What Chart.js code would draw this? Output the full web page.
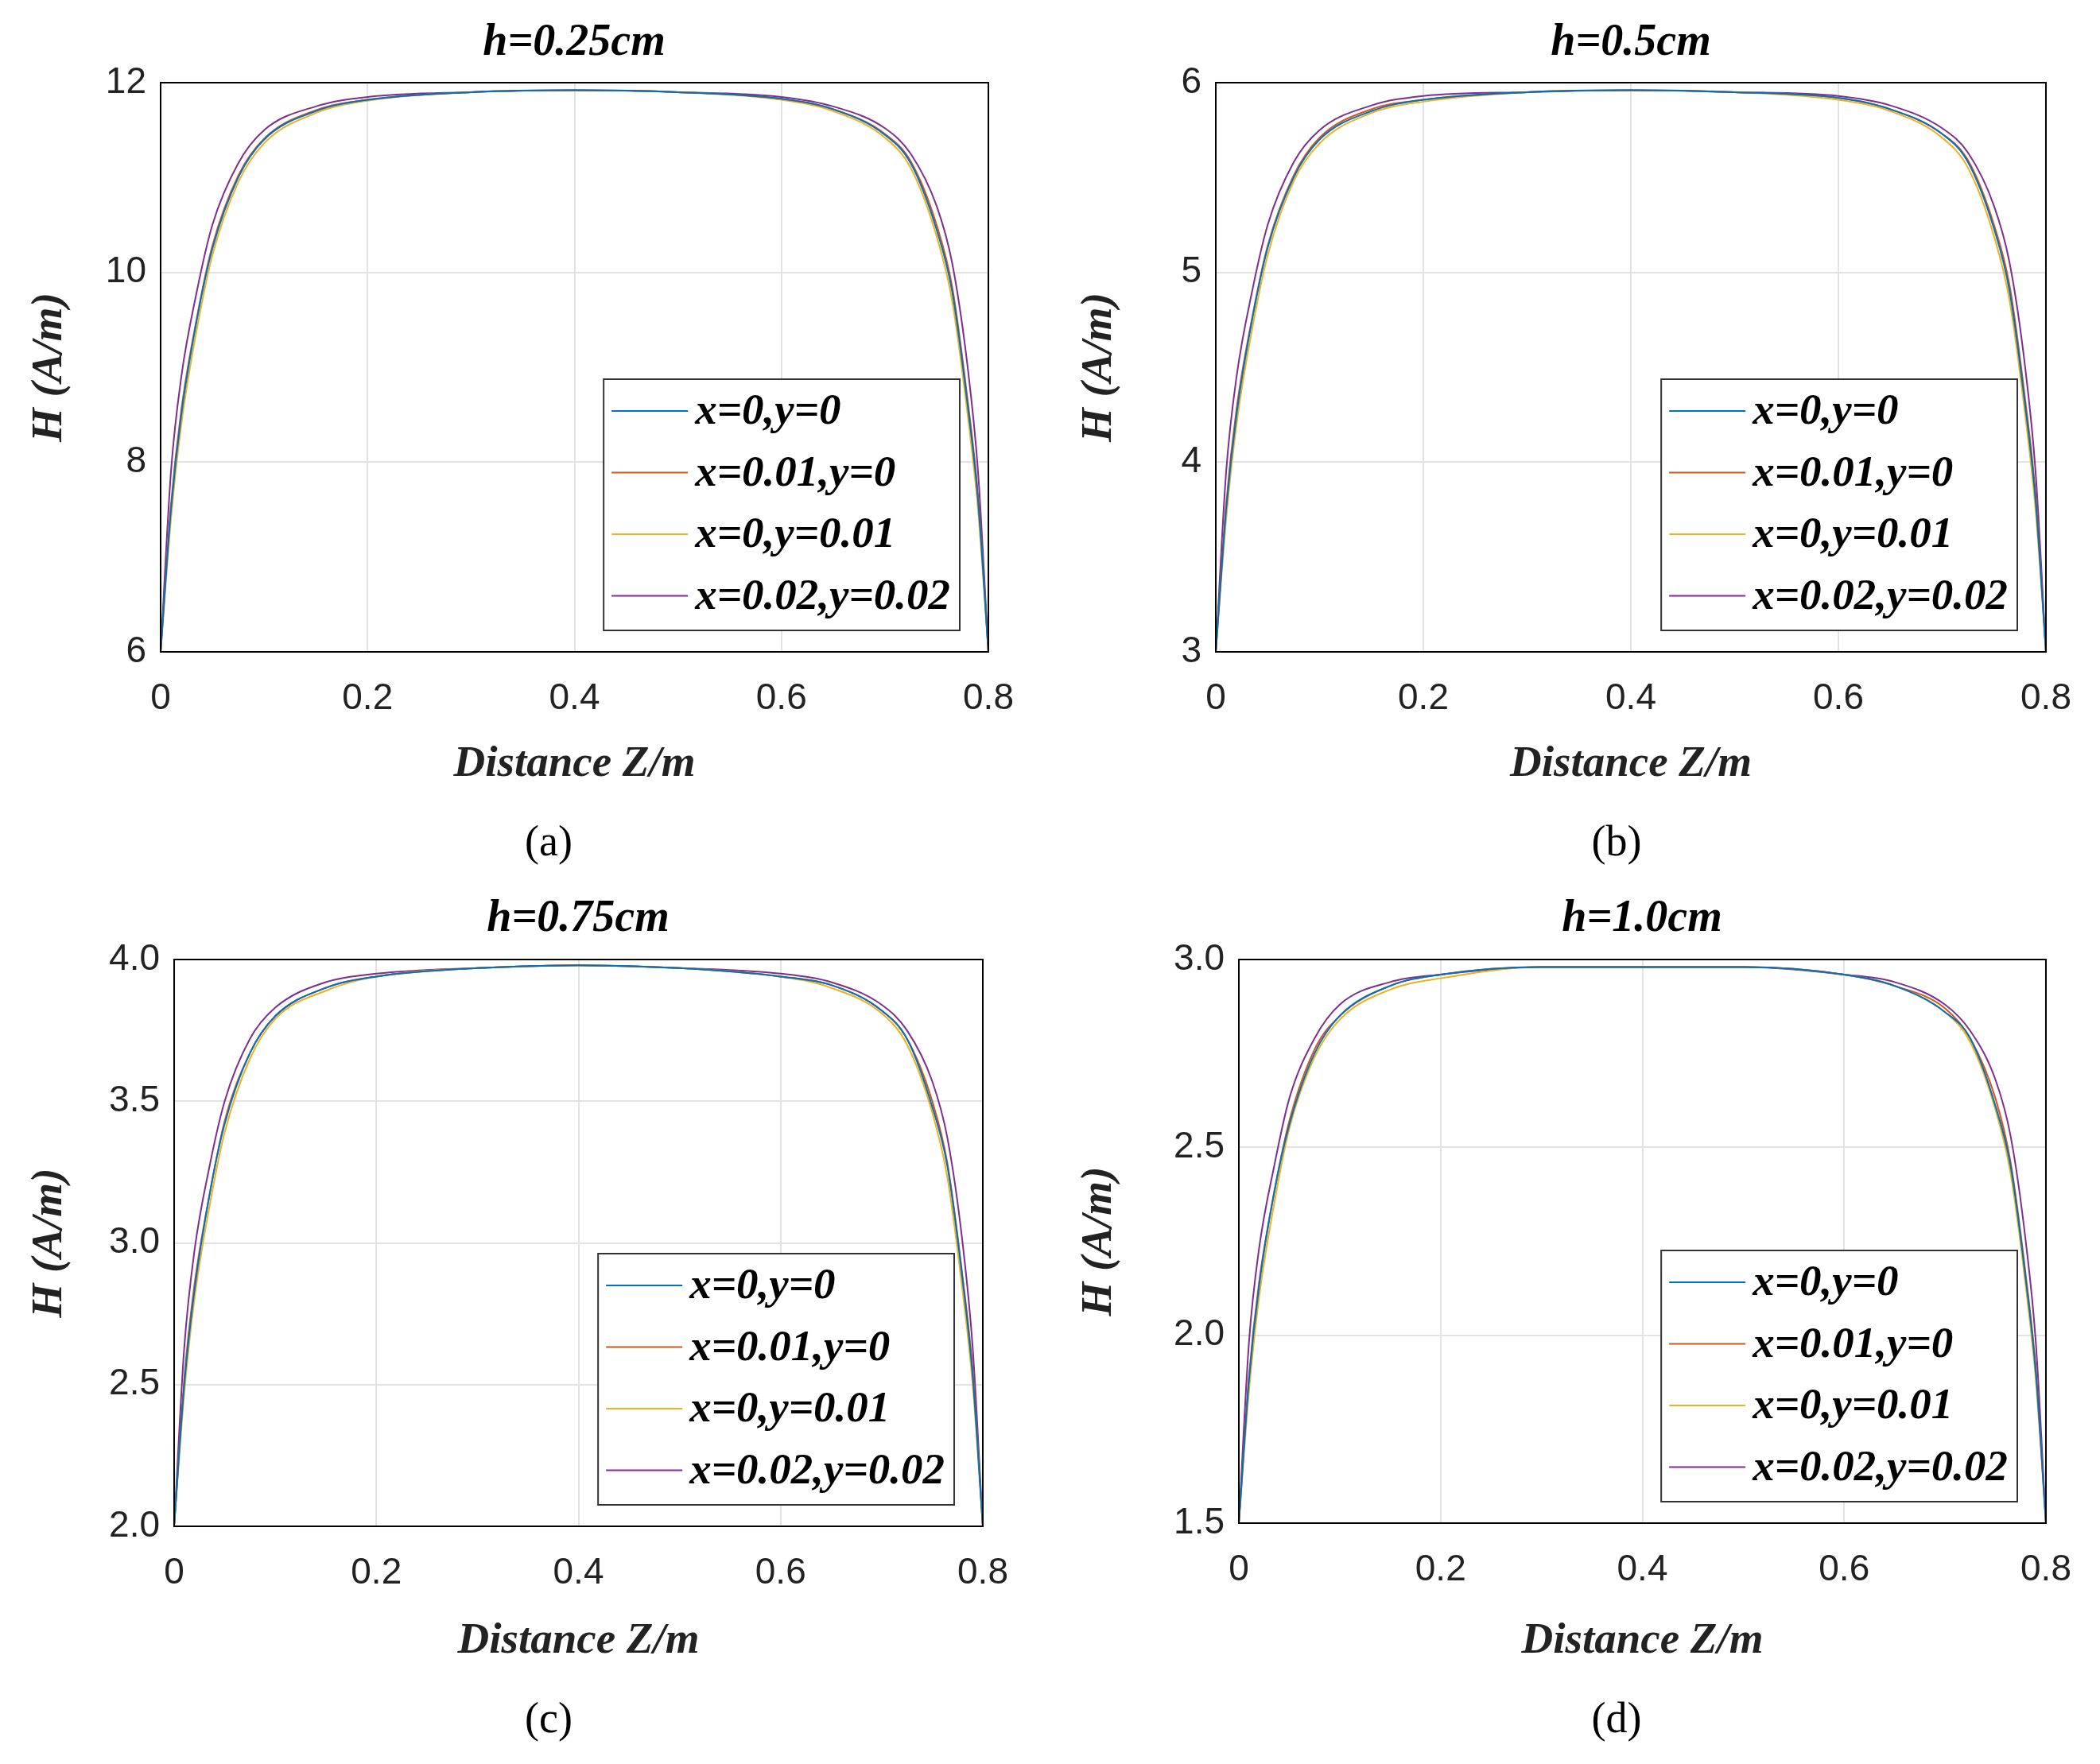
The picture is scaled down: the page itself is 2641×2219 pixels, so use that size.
<!DOCTYPE html>
<html>
<head>
<meta charset="utf-8">
<script src="https://cdn.jsdelivr.net/npm/chart.js@4.4.0/dist/chart.umd.min.js"></script>
<style>
body{margin:0;background:#fff;width:2641px;height:2219px;position:relative;overflow:hidden}
.box{position:absolute;width:1320px;height:1000px}
.ttl{position:absolute;transform:translate(-50%,-50%);font:italic bold 56px "Liberation Serif";white-space:nowrap}
.lab{position:absolute;transform:translate(-50%,-50%);font:54px "Liberation Serif"}
</style>
</head>
<body>
<div class="box" style="left:0;top:0"><canvas id="cA" width="1320" height="1000"></canvas></div>
<div class="box" style="left:1320px;top:0"><canvas id="cB" width="1320" height="1000"></canvas></div>
<div class="box" style="left:0;top:1103px"><canvas id="cC" width="1320" height="1000"></canvas></div>
<div class="box" style="left:1320px;top:1103px"><canvas id="cD" width="1320" height="1000"></canvas></div>
<div class="ttl" style="left:722px;top:50px">h=0.25cm</div>
<div class="ttl" style="left:2051px;top:50px">h=0.5cm</div>
<div class="ttl" style="left:727px;top:1152px">h=0.75cm</div>
<div class="ttl" style="left:2065px;top:1152px">h=1.0cm</div>
<div class="lab" style="left:690px;top:1058px">(a)</div>
<div class="lab" style="left:2033px;top:1058px">(b)</div>
<div class="lab" style="left:690px;top:2161px">(c)</div>
<div class="lab" style="left:2033px;top:2161px">(d)</div>
<script>
let Z = [0,0.01,0.02,0.035,0.05,0.075,0.1,0.15,0.2,0.3,0.4,0.5,0.6,0.65,0.7,0.725,0.75,0.765,0.78,0.79,0.8];
let names = ["x=0,y=0","x=0.01,y=0","x=0,y=0.01","x=0.02,y=0.02"];
let colors = ["#0072BD","#D95319","#EDB120","#7E2F8E"];

let panels = [
  {id:"cA", min:6, max:12, step:2, yw:202, padR:77, xh:180, data:[
    [6,7.5,8.5,9.5,10.25,11.0,11.4,11.7,11.82,11.9,11.92,11.9,11.83,11.72,11.45,11.15,10.45,9.8,8.6,7.6,6],
    [6,7.55,8.55,9.52,10.28,11.02,11.41,11.71,11.82,11.9,11.92,11.9,11.83,11.72,11.46,11.17,10.5,9.85,8.65,7.65,6],
    [6,7.4,8.4,9.4,10.18,10.95,11.36,11.68,11.81,11.9,11.92,11.9,11.82,11.7,11.42,11.1,10.38,9.7,8.5,7.5,6],
    [6,7.9,8.9,9.8,10.5,11.15,11.5,11.75,11.85,11.9,11.92,11.9,11.85,11.75,11.52,11.25,10.7,10.1,9.0,7.9,6]]},
  {id:"cB", min:3, max:6, step:1, yw:209, padR:67, xh:180, data:[
    [3,3.75,4.25,4.75,5.13,5.5,5.7,5.85,5.91,5.95,5.96,5.95,5.92,5.86,5.73,5.58,5.23,4.9,4.3,3.8,3],
    [3,3.78,4.28,4.76,5.14,5.51,5.71,5.86,5.91,5.95,5.96,5.95,5.92,5.86,5.73,5.59,5.25,4.93,4.33,3.83,3],
    [3,3.7,4.2,4.7,5.09,5.48,5.68,5.84,5.9,5.95,5.96,5.95,5.91,5.85,5.71,5.55,5.19,4.85,4.25,3.75,3],
    [3,3.95,4.45,4.9,5.25,5.58,5.75,5.88,5.93,5.95,5.96,5.95,5.93,5.88,5.76,5.63,5.35,5.05,4.5,3.95,3]]},
  {id:"cC", min:2, max:4, step:0.5, yw:219, padR:84, xh:183, data:[
    [2,2.5,2.83,3.17,3.42,3.67,3.8,3.9,3.94,3.97,3.98,3.97,3.94,3.91,3.82,3.72,3.48,3.27,2.87,2.53,2],
    [2,2.52,2.85,3.17,3.43,3.67,3.8,3.9,3.94,3.97,3.98,3.97,3.94,3.91,3.82,3.72,3.5,3.28,2.88,2.55,2],
    [2,2.47,2.8,3.13,3.39,3.65,3.79,3.89,3.94,3.97,3.98,3.97,3.94,3.9,3.81,3.7,3.46,3.23,2.83,2.5,2],
    [2,2.63,2.97,3.27,3.5,3.72,3.83,3.92,3.95,3.97,3.98,3.97,3.95,3.92,3.84,3.75,3.57,3.37,3.0,2.63,2]]},
  {id:"cD", min:1.5, max:3, step:0.5, yw:238, padR:67, xh:187, data:[
    [1.5,1.88,2.13,2.38,2.56,2.75,2.85,2.93,2.96,2.98,2.98,2.98,2.96,2.93,2.86,2.79,2.61,2.45,2.15,1.9,1.5],
    [1.5,1.89,2.14,2.38,2.57,2.76,2.85,2.93,2.96,2.98,2.98,2.98,2.96,2.93,2.87,2.79,2.63,2.46,2.16,1.91,1.5],
    [1.5,1.85,2.1,2.35,2.55,2.74,2.84,2.92,2.95,2.98,2.98,2.98,2.96,2.93,2.86,2.78,2.6,2.43,2.13,1.88,1.5],
    [1.5,1.98,2.23,2.45,2.63,2.79,2.88,2.94,2.96,2.98,2.98,2.98,2.96,2.94,2.88,2.81,2.68,2.53,2.25,1.98,1.5]]}
];

// frame + legend inside the plot, MATLAB style
let matlabBits = {
  id: "matlabBits",
  afterDraw(chart){
    let ctx = chart.ctx, a = chart.chartArea;
    ctx.save();
    ctx.strokeStyle = "#000"; ctx.lineWidth = 2;
    ctx.strokeRect(a.left, a.top, a.right - a.left, a.bottom - a.top);
    ctx.font = "italic bold 55px 'Liberation Serif'";
    let tw = 0;
    names.forEach(n => tw = Math.max(tw, ctx.measureText(n).width));
    let bw = 115 + tw + 12, bh = 316;
    let bx = a.right - 36 - bw, by = a.bottom - 27 - bh;
    ctx.fillStyle = "#fff"; ctx.fillRect(bx, by, bw, bh);
    ctx.strokeStyle = "#333"; ctx.lineWidth = 2; ctx.strokeRect(bx, by, bw, bh);
    names.forEach((n, i) => {
      let yy = by + 40 + i * 77.5;
      ctx.strokeStyle = colors[i]; ctx.lineWidth = 2;
      ctx.beginPath(); ctx.moveTo(bx + 10, yy); ctx.lineTo(bx + 106, yy); ctx.stroke();
      ctx.fillStyle = "#000"; ctx.textBaseline = "middle";
      ctx.fillText(n, bx + 115, yy + 2);
    });
    ctx.restore();
  }
};

panels.forEach(p => {
  new Chart(p.id, {
    type: "line",
    data: {
      datasets: p.data.map((d, i) => ({
        label: names[i],
        data: Z.map((z, k) => ({x: z, y: d[k]})),
        borderColor: colors[i],
        borderWidth: 2,
        pointRadius: 0,
        cubicInterpolationMode: "monotone",
        fill: false
      }))
    },
    options: {
      responsive: false, animation: false,
      devicePixelRatio: 1,
      layout: {padding: {top: 104, right: p.padR, left: 0, bottom: 0}},
      plugins: {legend: {display: false}, tooltip: {enabled: false}},
      scales: {
        x: {
          type: "linear", min: 0, max: 0.8,
          ticks: {stepSize: 0.2, padding: 32, color: "#222", font: {size: 46, family: "Liberation Sans"}},
          grid: {color: "#e3e3e3", lineWidth: 2, drawTicks: false},
          border: {display: false},
          title: {display: true, text: "Distance Z/m", color: "#222", padding: {top: 0, bottom: 5},
                  font: {size: 55, style: "italic", weight: "bold", family: "Liberation Serif"}},
          afterFit(s){ s.height = p.xh; }
        },
        y: {
          min: p.min, max: p.max,
          ticks: {stepSize: p.step, padding: 18, color: "#222", font: {size: 46, family: "Liberation Sans"}},
          grid: {color: "#e3e3e3", lineWidth: 2, drawTicks: false},
          border: {display: false},
          title: {display: true, text: "H (A/m)", color: "#222", padding: {top: 30, bottom: 0},
                  font: {size: 55, style: "italic", weight: "bold", family: "Liberation Serif"}},
          afterFit(s){ s.width = p.yw; }
        }
      }
    },
    plugins: [matlabBits]
  });
});
</script>
</body>
</html>
